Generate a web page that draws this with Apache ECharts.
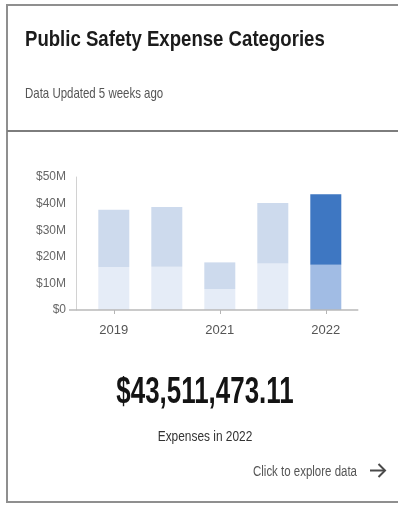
<!DOCTYPE html>
<html>
<head>
<meta charset="utf-8">
<script src="https://cdn.jsdelivr.net/npm/echarts@6/dist/echarts.min.js"></script>
<style>
  html, body { margin: 0; padding: 0; background: #fff; }
  #chart { width: 398px; height: 505px; }
</style>
</head>
<body>
<div id="chart"></div>
<script>
// Yearly public safety expenses, in millions of dollars
const categories = ['2019', '2020', '2021', '2022', '2022'];
const tickLabels = ['$0', '$10M', '$20M', '$30M', '$40M', '$50M'];
const totalValues = [37.7, 38.7, 17.9, 40.2, 43.51147311];
const baseValues = [16.2, 16.3, 7.9, 17.5, 17.0];
const upperValues = totalValues.map((t, i) => +(t - baseValues[i]).toFixed(6));
const highlightIndex = 4;
const headlineAmount = '$43,511,473.11';
const headlineCaption = 'Expenses in 2022';

const FONT = "'Liberation Sans', Arial, sans-serif";
const chart = echarts.init(document.getElementById('chart'));

function colorFor(light, strong) {
  return p => (p.dataIndex === highlightIndex ? strong : light);
}

function txt(x, y, text, size, weight, fill, scaleX, align) {
  return {
    type: 'text', x, y, scaleX, silent: true,
    style: { text, fontSize: size, fontWeight: weight, fontFamily: FONT, fill,
             align: align || 'left', verticalAlign: 'middle' }
  };
}

const cardLine = { stroke: '#8f8f8f', lineWidth: 2 };

chart.setOption({
  animation: false,
  grid: { left: 87.3, top: 177, width: 265, height: 133, containLabel: false },
  xAxis: {
    type: 'category',
    data: categories,
    axisLine: { show: false },
    axisTick: { show: true, interval: 1, alignWithLabel: true, length: 4,
                lineStyle: { color: '#b5b5b5' } },
    axisLabel: { interval: 1, color: '#555', fontSize: 13, fontFamily: FONT, margin: 14 }
  },
  yAxis: {
    type: 'value',
    min: 0, max: 50, interval: 10,
    offset: 11.3,
    axisLine: { show: true, lineStyle: { color: '#d2d2d2' } },
    axisTick: { show: false },
    splitLine: { show: false },
    axisLabel: { color: '#666', fontSize: 12, fontFamily: FONT, margin: 10,
                 formatter: v => tickLabels[Math.round(v / 10)] }
  },
  series: [
    { type: 'bar', stack: 'total', barWidth: 31, data: baseValues,
      itemStyle: { color: colorFor('#e5ecf7', '#a1bce4') } },
    { type: 'bar', stack: 'total', barWidth: 31, data: upperValues,
      itemStyle: { color: colorFor('#cddaed', '#3e77c2') } }
  ]
});

// Baseline drawn through the $0 position of the value axis
const zeroY = chart.convertToPixel({ yAxisIndex: 0 }, 0);
const axisX = 87.3 - 11.3;

chart.setOption({
  graphic: [
    // card frame and header divider
    { type: 'polyline', silent: true, shape: { points: [[398, 5], [7, 5], [7, 502], [398, 502]] },
      style: Object.assign({ fill: null }, cardLine) },
    { type: 'line', silent: true, shape: { x1: 7, y1: 131, x2: 398, y2: 131 },
      style: { stroke: '#7d7d7d', lineWidth: 2 } },
    // x axis baseline
    { type: 'line', silent: true, z: 5,
      shape: { x1: axisX - 7, y1: zeroY, x2: 87.3 + 265 + 6, y2: zeroY },
      style: { stroke: '#b8b8b8', lineWidth: 1.5 } },
    // header texts
    txt(25, 40, 'Public Safety Expense Categories', 21.5, 'bold', '#1b1b1b', 0.865),
    txt(25, 94, 'Data Updated 5 weeks ago', 14.5, 'normal', '#555', 0.79),
    // headline figure
    txt(205, 393.5, headlineAmount, 36, 'bold', '#141414', 0.72, 'center'),
    txt(205, 437.5, headlineCaption, 14, 'normal', '#333', 0.85, 'center'),
    txt(357, 472, 'Click to explore data', 14, 'normal', '#555', 0.82, 'right'),
    // arrow
    { type: 'polyline', silent: true, shape: { points: [[370, 470.5], [385, 470.5]] },
      style: { stroke: '#4a4a4a', lineWidth: 2, fill: null } },
    { type: 'polyline', silent: true, shape: { points: [[378.5, 464], [385, 470.5], [378.5, 477]] },
      style: { stroke: '#4a4a4a', lineWidth: 2, fill: null } }
  ]
});
</script>
</body>
</html>
